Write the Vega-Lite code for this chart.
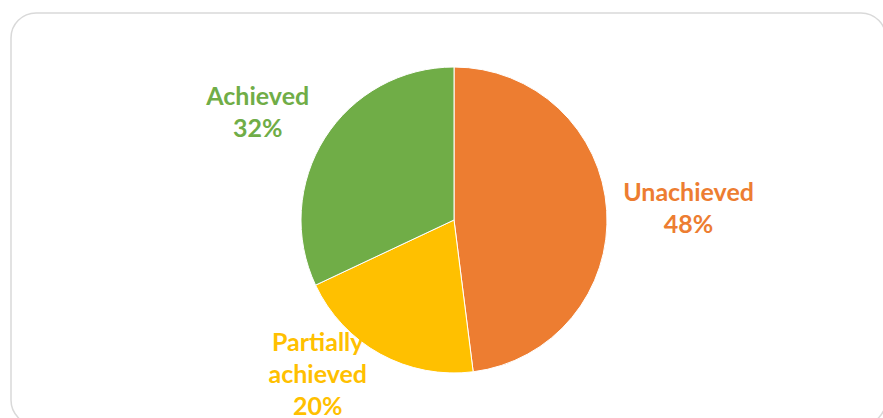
{
  "$schema": "https://vega.github.io/schema/vega-lite/v6.json",
  "width": 872,
  "height": 405,
  "autosize": {"type": "none"},
  "padding": {"left": 11, "top": 13, "right": 0, "bottom": 0},
  "background": "white",
  "config": {
    "view": {"stroke": null},
    "text": {"font": "Lato", "fontWeight": "bold", "fontSize": 25, "lineBreak": "\n", "lineHeight": 32, "align": "center", "baseline": "middle"}
  },
  "data": {
    "values": [
      {"category": "Unachieved", "value": 48, "ord": 1, "label": "Unachieved\n48%"},
      {"category": "Partially achieved", "value": 20, "ord": 2, "label": "Partially\nachieved\n20%"},
      {"category": "Achieved", "value": 32, "ord": 3, "label": "Achieved\n32%"}
    ]
  },
  "layer": [
    {
      "data": {"values": [{"frame": 1}]},
      "mark": {"type": "rect", "fill": null, "stroke": "#d9d9d9", "strokeWidth": 1.5, "cornerRadius": 25, "x2Offset": 3, "y2Offset": 7},
      "encoding": {
        "x": {"value": 0},
        "x2": {"value": "width"},
        "y": {"value": 0},
        "y2": {"value": "height"}
      }
    },
    {
      "mark": {"type": "arc", "outerRadius": 153, "stroke": "white", "strokeWidth": 1, "xOffset": 7, "yOffset": 4.5},
      "encoding": {
        "theta": {"field": "value", "type": "quantitative", "stack": true},
        "order": {"field": "ord", "type": "quantitative"},
        "color": {
          "field": "category",
          "type": "nominal",
          "scale": {"domain": ["Unachieved", "Partially achieved", "Achieved"], "range": ["#ED7D31", "#FFC000", "#70AD47"]},
          "legend": null
        }
      }
    },
    {
      "mark": {"type": "text", "radius": 235, "color": "#ED7D31", "dx": 7, "dy": -7.7},
      "encoding": {
        "theta": {"field": "value", "type": "quantitative", "stack": true},
        "order": {"field": "ord", "type": "quantitative"},
        "text": {"condition": {"test": "datum.category === 'Unachieved'", "field": "label"}, "value": ""}
      }
    },
    {
      "mark": {"type": "text", "radius": 223, "color": "#70AD47", "dx": -1, "dy": 1},
      "encoding": {
        "theta": {"field": "value", "type": "quantitative", "stack": true},
        "order": {"field": "ord", "type": "quantitative"},
        "text": {"condition": {"test": "datum.category === 'Achieved'", "field": "label"}, "value": ""}
      }
    },
    {
      "mark": {"type": "text", "radius": 206, "color": "#FFC000", "dx": -30, "dy": -53},
      "encoding": {
        "theta": {"field": "value", "type": "quantitative", "stack": true},
        "order": {"field": "ord", "type": "quantitative"},
        "text": {"condition": {"test": "datum.category === 'Partially achieved'", "field": "label"}, "value": ""}
      }
    }
  ]
}
